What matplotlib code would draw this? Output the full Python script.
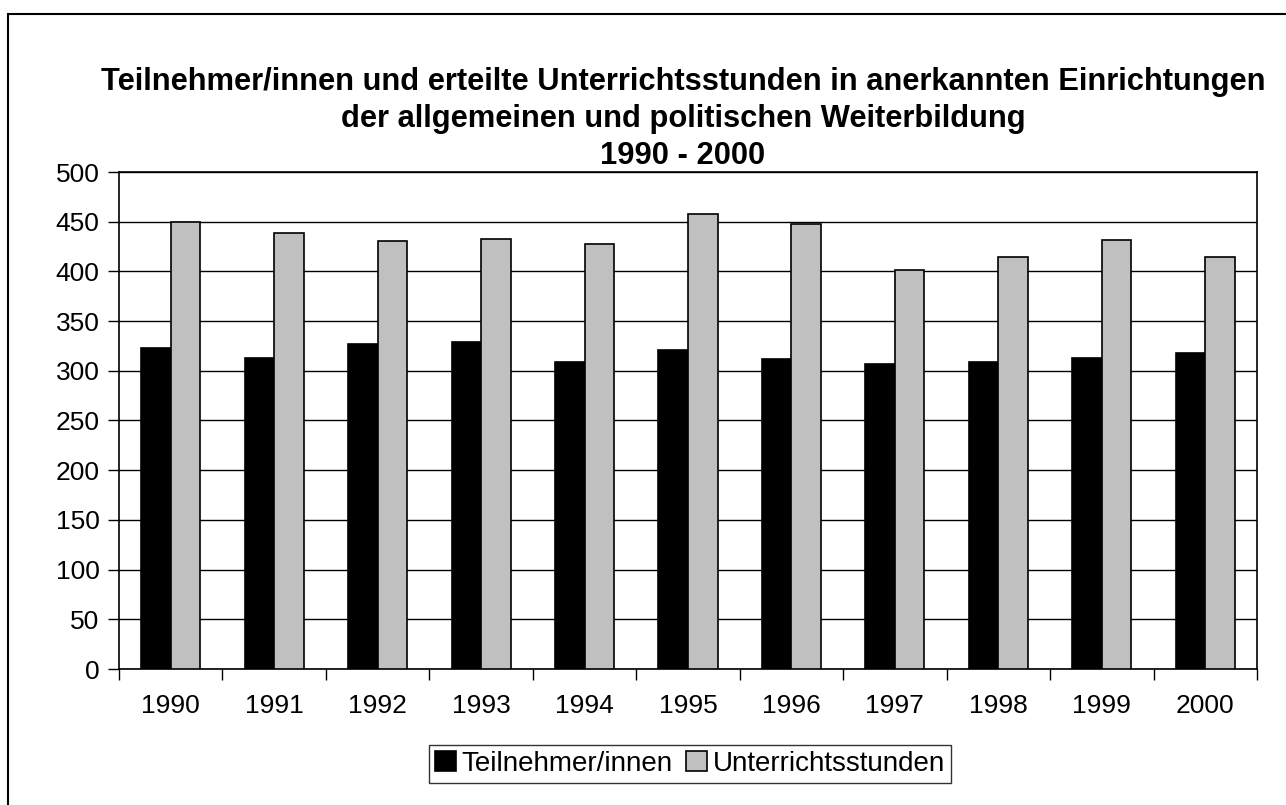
import matplotlib.pyplot as plt
import numpy as np
from matplotlib.patches import Rectangle

plt.rcParams['font.family'] = ['Liberation Sans', 'DejaVu Sans']

years = ['1990', '1991', '1992', '1993', '1994', '1995', '1996', '1997', '1998', '1999', '2000']
teilnehmer = [323, 313, 327, 329, 309, 321, 312, 307, 309, 313, 318]
stunden = [450, 439, 431, 433, 428, 458, 448, 401, 414, 432, 414]

fig = plt.figure(figsize=(12.86, 8.05), dpi=100)
W, H = 1286, 805
ax = fig.add_axes([119 / W, 1 - 669 / H, (1257 - 119) / W, (669 - 172) / H])

# Outer frame
fig.patches.append(Rectangle((8 / W, -0.1), 1.2, 1 - 14 / H + 0.1, transform=fig.transFigure,
                             fill=False, edgecolor='black', linewidth=1.5))

x = np.arange(len(years))
bw = 1 / 3.5
ax.bar(x - bw / 2, teilnehmer, bw, color='black', edgecolor='black', linewidth=1.2,
       label='Teilnehmer/innen', zorder=3)
ax.bar(x + bw / 2, stunden, bw, color='#c0c0c0', edgecolor='black', linewidth=1.2,
       label='Unterrichtsstunden', zorder=3)

ax.set_xlim(-0.5, len(years) - 0.5)
ax.set_ylim(0, 500)
ax.set_yticks(range(0, 501, 50))
ax.yaxis.grid(True, color='black', linewidth=1)
ax.set_axisbelow(True)

# Category ticks at the boundaries, labels centered
ax.set_xticks(np.arange(-0.5, len(years), 1))
ax.set_xticklabels([])
ax.set_xticks(x, minor=True)
ax.set_xticklabels(years, minor=True)
ax.tick_params(axis='x', which='major', length=8, direction='out', width=1)
ax.tick_params(axis='x', which='minor', length=0, pad=18, labelsize=19)
ax.tick_params(axis='y', length=8, width=1, labelsize=19, pad=6)

for s in ax.spines.values():
    s.set_linewidth(1.2)

# Title
fig.text(683 / W, 1 - 119 / H, 'Teilnehmer/innen und erteilte Unterrichtsstunden in anerkannten Einrichtungen\n'
         'der allgemeinen und politischen Weiterbildung\n1990 - 2000',
         ha='center', va='center', fontsize=22.2, fontweight='bold', linespacing=1.3)

leg = fig.legend(loc='center', bbox_to_anchor=(690 / W, 1 - 764 / H), ncol=2, fontsize=20,
                 frameon=True, fancybox=False, edgecolor='black', handlelength=0.75,
                 handleheight=0.75, handletextpad=0.2, columnspacing=0.5, borderpad=0.22,
                 borderaxespad=0)
leg.get_frame().set_linewidth(1)

fig.savefig('out.png', dpi=100)
